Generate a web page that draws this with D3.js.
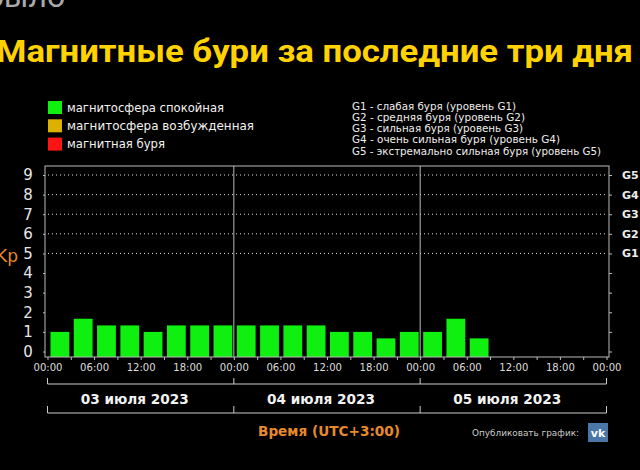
<!DOCTYPE html>
<html>
<head>
<meta charset="utf-8">
<script src="https://cdn.jsdelivr.net/npm/d3@7"></script>
<style>
  html, body { margin: 0; padding: 0; background: #000; overflow: hidden; }
  svg { display: block; }
</style>
</head>
<body>
<svg id="chart" width="640" height="470"></svg>
<script>
// ── данные ─────────────────────────────────────────────
// Kp-индекс по трёхчасовым интервалам (03.07 00:00 → 05.07 09:00)
const kpValues = [1, 1.67, 1.33, 1.33, 1, 1.33, 1.33, 1.33,
                  1.33, 1.33, 1.33, 1.33, 1, 1, 0.67, 1,
                  1, 1.67, 0.67];
const dayLabels = ["03 июля 2023", "04 июля 2023", "05 июля 2023"];
const yTicks = [0, 1, 2, 3, 4, 5, 6, 7, 8, 9];
const gLabels = ["G1", "G2", "G3", "G4", "G5"];
const gLevels = [5, 6, 7, 8, 9];
const legendLabels = ["магнитосфера спокойная", "магнитосфера возбужденная", "магнитная буря"];
const legendColors = ["#10f010", "#ddb100", "#ff1414"];
const gLegend = [
  "G1 - слабая буря (уровень G1)",
  "G2 - средняя буря (уровень G2)",
  "G3 - сильная буря (уровень G3)",
  "G4 - очень сильная буря (уровень G4)",
  "G5 - экстремально сильная буря (уровень G5)"
];

const start = new Date(Date.UTC(2023, 6, 3));
const end = new Date(Date.UTC(2023, 6, 6));
const HOUR = 3600 * 1000;
const bars = kpValues.map((v, i) => ({ t: new Date(+start + i * 3 * HOUR), v }));

const svg = d3.select("#chart");

// ── шкалы ──────────────────────────────────────────────
const x = d3.scaleUtc().domain([start, end]).range([47.5, 606.5]);
const y = d3.scaleLinear().domain([0, 9]).range([351.5, 175]);
const frame = { left: 45, right: 609, top: 166, bottom: 357 };

const barColor = v => v < 4 ? legendColors[0] : v < 5 ? legendColors[1] : legendColors[2];

// заголовок и обрезанный текст сверху
svg.append("text").attr("x", -14).attr("y", 7)
  .attr("font-family", "Roboto").attr("font-size", 32).attr("fill", "#aaa")
  .text("было");
svg.append("text").attr("x", -4).attr("y", 62)
  .attr("font-family", "Roboto").attr("font-weight", 700).attr("font-size", 32)
  .attr("fill", "#ffd200")
  .attr("textLength", 637).attr("lengthAdjust", "spacingAndGlyphs")
  .text("Магнитные бури за последние три дня");

// легенда слева
const legendWidths = [157, 187, 98];
const leg = svg.append("g");
legendLabels.forEach((l, i) => {
  const cy = 107.5 + i * 18.3;
  leg.append("rect").attr("x", 48).attr("y", cy - 6.5).attr("width", 14).attr("height", 13)
    .attr("fill", legendColors[i]);
  leg.append("text").attr("x", 67).attr("y", cy + 4)
    .attr("font-family", "DejaVu Sans").attr("font-size", 12).attr("fill", "#f2f2f2")
    .attr("textLength", legendWidths[i]).attr("lengthAdjust", "spacingAndGlyphs")
    .text(l);
});

// легенда справа (уровни G)
const gWidths = [164, 173, 171, 208, 249];
gLegend.forEach((l, i) => {
  svg.append("text").attr("x", 352).attr("y", 109.5 + i * 11.25)
    .attr("font-family", "DejaVu Sans").attr("font-size", 10.5).attr("fill", "#eee")
    .attr("textLength", gWidths[i]).attr("lengthAdjust", "spacingAndGlyphs")
    .text(l);
});

// пунктирная сетка для уровней G
svg.append("g").selectAll("line").data(gLevels).join("line")
  .attr("x1", frame.left + 3).attr("x2", frame.right - 3)
  .attr("y1", d => y(d)).attr("y2", d => y(d))
  .attr("stroke", "#ddd").attr("stroke-width", 1).attr("stroke-dasharray", "1,3");

// столбики
svg.append("g").selectAll("rect").data(bars).join("rect")
  .attr("x", d => x(d.t) + 3)
  .attr("width", d => x(new Date(+d.t + 3 * HOUR)) - x(d.t) - 4.5)
  .attr("y", d => y(d.v))
  .attr("height", d => frame.bottom - y(d.v))
  .attr("fill", d => barColor(d.v));

// рамка и разделители дней
svg.append("rect")
  .attr("x", frame.left).attr("y", frame.top)
  .attr("width", frame.right - frame.left).attr("height", frame.bottom - frame.top)
  .attr("fill", "none").attr("stroke", "#bbb").attr("stroke-width", 1);
const dayBounds = d3.utcDay.range(start, end).concat([end]);
svg.append("g").selectAll("line").data(dayBounds.slice(1, -1)).join("line")
  .attr("x1", d => x(d)).attr("x2", d => x(d))
  .attr("y1", frame.top).attr("y2", frame.bottom)
  .attr("stroke", "#bbb").attr("stroke-width", 1);

// левая ось Kp
const yAxis = svg.append("g").attr("transform", `translate(${frame.left},0)`)
  .call(d3.axisLeft(y).tickValues(yTicks).tickSize(2).tickPadding(10).tickFormat(d3.format("d")));
yAxis.select(".domain").remove();
yAxis.selectAll("line").attr("stroke", "#bbb");
yAxis.selectAll("text").attr("fill", "#e6e6e6").attr("font-family", "DejaVu Sans")
  .attr("font-size", 15).attr("text-anchor", "middle").attr("x", -17);

svg.append("text").attr("x", -4).attr("y", 262)
  .attr("font-family", "DejaVu Sans").attr("font-size", 17).attr("fill", "#e8892a")
  .text("Kp");

// правая ось G
const yAxisR = svg.append("g").attr("transform", `translate(${frame.right},0)`)
  .call(d3.axisRight(y).tickValues(yTicks).tickSize(3).tickPadding(10)
    .tickFormat(d => gLevels.includes(d) ? gLabels[gLevels.indexOf(d)] : ""));
yAxisR.select(".domain").remove();
yAxisR.selectAll("line").attr("stroke", "#bbb");
yAxisR.selectAll("text").attr("fill", "#eee").attr("font-family", "DejaVu Sans")
  .attr("font-weight", 700).attr("font-size", 11);

// ось времени
const xAxis = svg.append("g").attr("transform", `translate(0,${frame.bottom})`)
  .call(d3.axisBottom(x).ticks(d3.utcHour.every(3)).tickSize(3).tickPadding(4)
    .tickFormat(d => d.getUTCHours() % 6 === 0 ? d3.utcFormat("%H:%M")(d) : ""));
xAxis.select(".domain").remove();
xAxis.selectAll("line").attr("stroke", "#bbb");
xAxis.selectAll("text").attr("fill", "#ddd").attr("font-family", "DejaVu Sans")
  .attr("font-size", 10).attr("textLength", 29).attr("lengthAdjust", "spacingAndGlyphs");

// скобки с датами
const brackets = svg.append("g").attr("stroke", "#ccc").attr("stroke-width", 1).attr("fill", "none");
[[378, 384, 384], [406, 413, 413]].forEach(([y0, y1, yh]) => {
  brackets.append("line").attr("x1", x(start)).attr("x2", x(end)).attr("y1", yh).attr("y2", yh);
  brackets.selectAll(null).data(dayBounds).join("line")
    .attr("x1", d => x(d)).attr("x2", d => x(d)).attr("y1", y0).attr("y2", y1);
});
svg.append("g").selectAll("text").data(dayLabels).join("text")
  .attr("x", (d, i) => (x(dayBounds[i]) + x(dayBounds[i + 1])) / 2 - 6)
  .attr("y", 404)
  .attr("text-anchor", "middle")
  .attr("font-family", "DejaVu Sans").attr("font-weight", 700).attr("font-size", 14)
  .attr("fill", "#f2f2f2")
  .attr("textLength", 108).attr("lengthAdjust", "spacingAndGlyphs")
  .text(d => d);

svg.append("text").attr("x", 329).attr("y", 436).attr("text-anchor", "middle")
  .attr("font-family", "DejaVu Sans").attr("font-weight", 700).attr("font-size", 14)
  .attr("fill", "#e8892a")
  .attr("textLength", 142).attr("lengthAdjust", "spacingAndGlyphs")
  .text("Время (UTC+3:00)");

// кнопка публикации
svg.append("text").attr("x", 472).attr("y", 436)
  .attr("font-family", "DejaVu Sans").attr("font-size", 9).attr("fill", "#ccc")
  .attr("textLength", 107).attr("lengthAdjust", "spacingAndGlyphs")
  .text("Опубликовать график:");
svg.append("rect").attr("x", 588).attr("y", 423).attr("width", 20).attr("height", 19)
  .attr("fill", "#4a76a8");
svg.append("text").attr("x", 598).attr("y", 437).attr("text-anchor", "middle")
  .attr("font-family", "DejaVu Sans").attr("font-weight", 700).attr("font-size", 11)
  .attr("fill", "#fff").text("vk");
</script>
</body>
</html>
